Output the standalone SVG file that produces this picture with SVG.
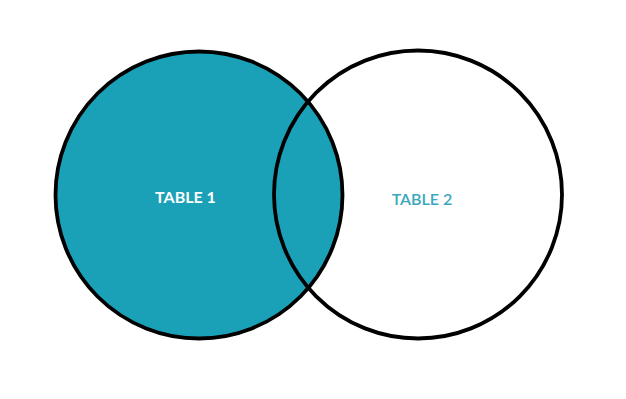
<svg xmlns="http://www.w3.org/2000/svg" width="626" height="399" viewBox="0 0 626 399">
  <style>
    .ring { stroke: #000; stroke-width: 3.8; }
    .label { font-family: Lato, "Open Sans", "Liberation Sans", sans-serif; font-size: 16px; text-anchor: middle; }
  </style>
  <rect width="626" height="399" fill="#fff"/>
  <g id="table1">
    <circle class="ring" cx="199" cy="195" r="143.5" fill="#1aa1b8"/>
  </g>
  <g id="table2">
    <circle class="ring" cx="418" cy="194.5" r="144" fill="none" stroke-width="3.4"/>
  </g>
  <g id="labels">
    <text class="label" x="185.5" y="202.5" fill="#fff" font-weight="bold">TABLE 1</text>
    <text class="label" x="422" y="205" fill="#3aa7bd" font-weight="600">TABLE 2</text>
  </g>
</svg>
